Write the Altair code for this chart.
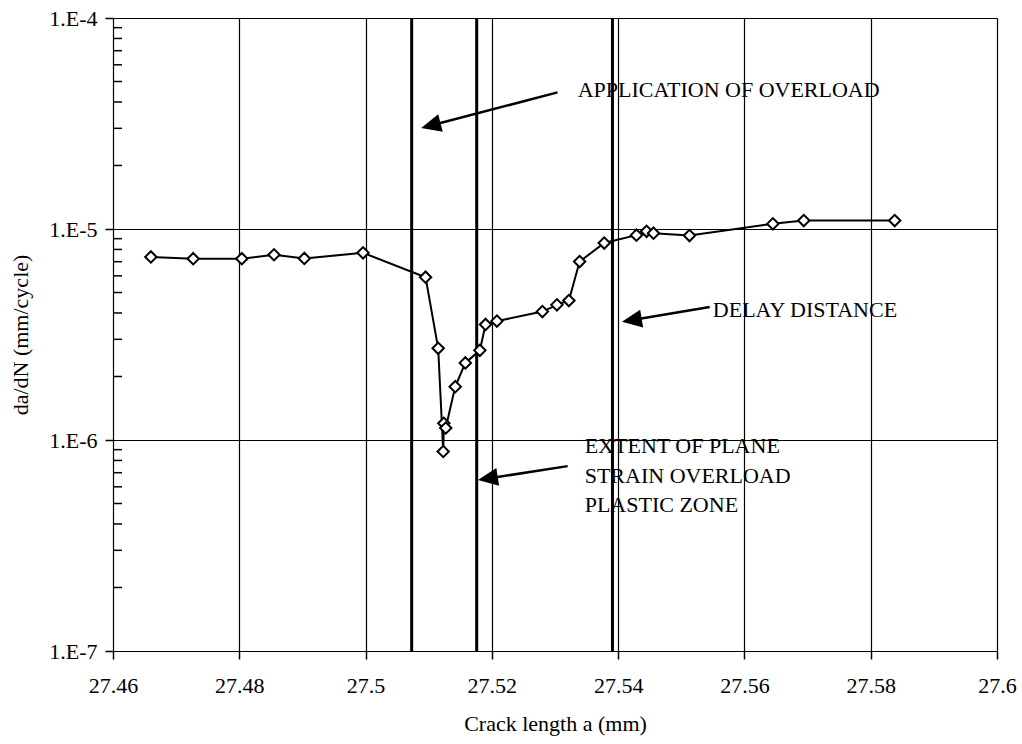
import math
import altair as alt
import pandas as pd

# Crack growth rate measurements around a single overload
crack_length = [27.4660, 27.4727, 27.4804, 27.4855, 27.4903, 27.4996, 27.5095,
                27.5115, 27.5123, 27.5124, 27.5127, 27.5142, 27.5158, 27.5181,
                27.5190, 27.5208, 27.5280, 27.5303, 27.5322, 27.5339, 27.5378,
                27.5429, 27.5445, 27.5456, 27.5513, 27.5645, 27.5694, 27.5838]
growth_rate = [7.37e-6, 7.23e-6, 7.23e-6, 7.55e-6, 7.25e-6, 7.71e-6, 5.91e-6,
               2.72e-6, 8.82e-7, 1.20e-6, 1.14e-6, 1.79e-6, 2.32e-6, 2.66e-6,
               3.53e-6, 3.66e-6, 4.06e-6, 4.37e-6, 4.58e-6, 7.01e-6, 8.58e-6,
               9.35e-6, 9.75e-6, 9.55e-6, 9.31e-6, 1.058e-5, 1.097e-5, 1.097e-5]

# Overload application, plane-strain plastic zone extent, delay distance
marker_lines = [27.5073, 27.5176, 27.5391]

x_ticks = [27.46, 27.48, 27.50, 27.52, 27.54, 27.56, 27.58, 27.60]
y_decades = [1e-7, 1e-6, 1e-5, 1e-4]
y_minor = [k * 10.0 ** e for e in (-7, -6, -5) for k in range(2, 10)]

# Annotation text lines (left edge, vertical centre)
note_text = ["APPLICATION OF OVERLOAD", "DELAY DISTANCE",
             "EXTENT OF PLANE", "STRAIN OVERLOAD", "PLASTIC ZONE"]
note_x = [27.5336, 27.5550, 27.5347, 27.5347, 27.5347]
note_y = [4.57e-5, 4.12e-6, 9.35e-7, 6.74e-7, 4.92e-7]

# Arrows: tail and tip
arrow_x0 = [27.5304, 27.5545, 27.5320]
arrow_y0 = [4.44e-5, 4.27e-6, 7.52e-7]
arrow_x1 = [27.5088, 27.5406, 27.5178]
arrow_y1 = [3.01e-5, 3.63e-6, 6.46e-7]

W, H = 884, 633
X_DOM = [27.46, 27.60]
Y_DOM = [1e-7, 1e-4]
FONT = "Liberation Serif"
FS = 22
HEAD_LEN = 20


def to_px(x, y):
    px = (x - X_DOM[0]) / (X_DOM[1] - X_DOM[0]) * W
    py = (math.log10(Y_DOM[1]) - math.log10(y)) / 3.0 * H
    return px, py


def from_px(px, py):
    x = X_DOM[0] + px / W * (X_DOM[1] - X_DOM[0])
    y = 10 ** (math.log10(Y_DOM[1]) - py / H * 3.0)
    return x, y


rows = []
for x0, y0, x1, y1 in zip(arrow_x0, arrow_y0, arrow_x1, arrow_y1):
    p0 = to_px(x0, y0)
    p1 = to_px(x1, y1)
    dx, dy = p1[0] - p0[0], p1[1] - p0[1]
    n = math.hypot(dx, dy)
    ang = math.degrees(math.atan2(dx, -dy)) % 360
    ex, ey = from_px(p1[0] - dx / n * HEAD_LEN * 0.6, p1[1] - dy / n * HEAD_LEN * 0.6)
    rows.append({"x0": x0, "y0": y0, "xe": ex, "ye": ey, "x1": x1, "y1": y1, "angle": ang})
arrows = pd.DataFrame(rows)

data = pd.DataFrame({"a": crack_length, "rate": growth_rate})
marks_df = pd.DataFrame({"a": marker_lines})
minor_df = pd.DataFrame({"rate": y_minor})
notes = pd.DataFrame({"text": note_text, "a": note_x, "rate": note_y})

x_scale = alt.Scale(domain=X_DOM, nice=False, zero=False)
y_scale = alt.Scale(type="log", domain=Y_DOM, nice=False)

x_axis = alt.Axis(values=x_ticks, format="~g", grid=True, gridColor="black",
                  gridWidth=1.2, gridOpacity=1, tickColor="black", tickSize=8,
                  tickWidth=1.5, domain=False, labelFont=FONT, labelFontSize=FS,
                  labelColor="black", labelPadding=16, labelFlush=False,
                  titleFont=FONT, titleFontSize=FS, titleFontWeight="normal",
                  titleColor="black", titlePadding=17)
y_axis = alt.Axis(values=y_decades, grid=True, gridColor="black", gridWidth=1.2,
                  gridOpacity=1, tickColor="black", tickSize=8, tickWidth=1.5,
                  domain=False, labelFont=FONT, labelFontSize=FS, labelColor="black",
                  labelPadding=8, labelExpr="'1.E' + round(log(datum.value) / LN10)",
                  titleFont=FONT, titleFontSize=FS, titleFontWeight="normal",
                  titleColor="black", titlePadding=16)

X_TITLE = "Crack length a (mm)"
Y_TITLE = "da/dN (mm/cycle)"


def xe(field):
    return alt.X(field, type="quantitative", scale=x_scale, axis=x_axis, title=X_TITLE)


def ye(field):
    return alt.Y(field, type="quantitative", scale=y_scale, axis=y_axis, title=Y_TITLE)


minor_ticks = alt.Chart(minor_df).mark_rule(color="black", strokeWidth=1.5).encode(
    x=alt.value(0), x2=alt.value(9), y=ye("rate"))

vlines = alt.Chart(marks_df).mark_rule(color="black", strokeWidth=3).encode(
    x=xe("a"))

curve = alt.Chart(data).mark_line(color="black", strokeWidth=2).encode(
    x=xe("a"), y=ye("rate"))

points = alt.Chart(data).mark_point(
    shape="diamond", size=130, filled=False, fill="white", fillOpacity=1,
    stroke="black", strokeWidth=2, opacity=1).encode(x=xe("a"), y=ye("rate"))

shafts = alt.Chart(arrows).mark_rule(color="black", strokeWidth=2.5).encode(
    x=xe("x0"), y=ye("y0"), x2="xe", y2="ye")

heads = alt.Chart(arrows).mark_point(
    shape="M0,0L0.45,1L-0.45,1Z", size=1600, filled=True, color="black",
    opacity=1).encode(x=xe("x1"), y=ye("y1"), angle=alt.Angle("angle:Q", scale=None))

texts = alt.Chart(notes).mark_text(
    align="left", baseline="middle", font=FONT, fontSize=FS, color="black").encode(
    x=xe("a"), y=ye("rate"), text="text")

chart = alt.layer(minor_ticks, vlines, curve, points, shafts, heads, texts).properties(
    width=W, height=H,
    autosize=alt.AutoSizeParams(type="none"),
    padding={"left": 113, "top": 18, "right": 25, "bottom": 93},
).configure_view(stroke="black", strokeWidth=2).configure(background="white")

chart.save("out.html", embed_options={"renderer": "svg", "actions": False})
